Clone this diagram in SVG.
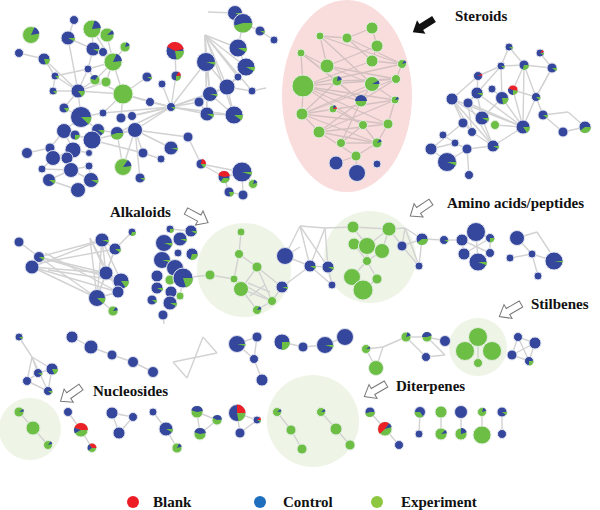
<svg xmlns="http://www.w3.org/2000/svg" width="600" height="510" viewBox="0 0 600 510">
<style>
.e line{stroke:#d2d2d2;stroke-width:1.4}
.se line{stroke:#d4c0c0;stroke-width:1.3}
circle.b{fill:#34479c;stroke:#e2e4ee;stroke-width:1}
circle.g{fill:#6cbe45;stroke:#e4eee2;stroke-width:1}
circle.r{fill:#ec2027;stroke:#eee2e2;stroke-width:1}
.wg{fill:none;stroke:#6cbe45}
.wb{fill:none;stroke:#34479c}
.wr{fill:none;stroke:#ec2027}
.lbl{font-family:"Liberation Serif","Times New Roman",serif;font-weight:bold;font-size:15px;fill:#111}
.hl{fill:#eef4e6}
</style>
<defs>
<polygon id="arr" points="0,-3.5 15,-3.5 15,-8 25,0 15,8 15,3.5 0,3.5"/>
</defs>
<rect width="600" height="510" fill="#fff"/>
<g id="regions">
<ellipse cx="347" cy="96" rx="65" ry="96" fill="#f9dddd"/>
<circle class="hl" cx="244" cy="270" r="47"/>
<circle class="hl" cx="370" cy="257" r="46"/>
<circle class="hl" cx="478" cy="347" r="29"/>
<circle class="hl" cx="30" cy="429" r="31"/>
<circle class="hl" cx="313" cy="421" r="46"/>
</g>
<g id="connectors">
<g class="e">
<line x1="19" y1="53" x2="44" y2="59"/><line x1="44" y1="59" x2="78" y2="91"/><line x1="44" y1="59" x2="55" y2="76"/><line x1="74" y1="20" x2="68" y2="38"/><line x1="68" y1="38" x2="93" y2="49"/><line x1="68" y1="38" x2="78" y2="91"/><line x1="92" y1="29" x2="93" y2="49"/><line x1="92" y1="29" x2="113" y2="62"/><line x1="93" y1="49" x2="113" y2="62"/><line x1="93" y1="49" x2="88" y2="69"/><line x1="103" y1="52" x2="113" y2="62"/><line x1="107" y1="35" x2="113" y2="62"/><line x1="125" y1="47" x2="113" y2="62"/><line x1="113" y1="62" x2="88" y2="69"/><line x1="113" y1="62" x2="95" y2="80"/><line x1="113" y1="62" x2="106" y2="82"/><line x1="88" y1="69" x2="55" y2="76"/><line x1="88" y1="69" x2="78" y2="91"/><line x1="88" y1="69" x2="95" y2="80"/><line x1="55" y1="76" x2="78" y2="91"/><line x1="55" y1="76" x2="53" y2="91"/><line x1="95" y1="80" x2="78" y2="91"/><line x1="106" y1="82" x2="78" y2="91"/><line x1="53" y1="91" x2="78" y2="91"/><line x1="78" y1="91" x2="123" y2="94"/><line x1="95" y1="80" x2="123" y2="94"/><line x1="113" y1="62" x2="123" y2="94"/><line x1="78" y1="91" x2="64" y2="108"/><line x1="78" y1="91" x2="81" y2="117"/><line x1="64" y1="108" x2="81" y2="117"/><line x1="81" y1="117" x2="103" y2="113"/><line x1="81" y1="117" x2="98" y2="130"/><line x1="81" y1="117" x2="64" y2="131"/><line x1="103" y1="113" x2="123" y2="94"/><line x1="121" y1="118" x2="123" y2="94"/><line x1="123" y1="94" x2="147" y2="77"/><line x1="123" y1="94" x2="150" y2="102"/><line x1="123" y1="94" x2="171" y2="107"/><line x1="150" y1="102" x2="171" y2="107"/><line x1="162" y1="84" x2="171" y2="107"/><line x1="176" y1="76" x2="171" y2="107"/><line x1="175" y1="51" x2="176" y2="76"/><line x1="103" y1="113" x2="171" y2="107"/><line x1="121" y1="118" x2="171" y2="107"/><line x1="132" y1="116" x2="171" y2="107"/><line x1="135" y1="130" x2="171" y2="107"/><line x1="117" y1="133" x2="171" y2="107"/><line x1="98" y1="130" x2="92" y2="140"/><line x1="92" y1="140" x2="64" y2="131"/><line x1="64" y1="131" x2="75" y2="135"/><line x1="75" y1="135" x2="92" y2="140"/><line x1="64" y1="131" x2="50" y2="148"/><line x1="64" y1="131" x2="73" y2="150"/><line x1="50" y1="148" x2="27" y2="153"/><line x1="50" y1="148" x2="53" y2="158"/><line x1="73" y1="150" x2="53" y2="158"/><line x1="73" y1="150" x2="67" y2="158"/><line x1="73" y1="150" x2="89" y2="153"/><line x1="89" y1="153" x2="92" y2="140"/><line x1="53" y1="158" x2="67" y2="158"/><line x1="67" y1="158" x2="71" y2="170"/><line x1="53" y1="158" x2="42" y2="169"/><line x1="42" y1="169" x2="71" y2="170"/><line x1="71" y1="170" x2="89" y2="166"/><line x1="89" y1="166" x2="91" y2="180"/><line x1="71" y1="170" x2="91" y2="180"/><line x1="49" y1="180" x2="71" y2="170"/><line x1="49" y1="180" x2="78" y2="190"/><line x1="78" y1="190" x2="91" y2="180"/><line x1="92" y1="140" x2="135" y2="130"/><line x1="98" y1="130" x2="117" y2="133"/><line x1="117" y1="133" x2="135" y2="130"/><line x1="92" y1="140" x2="143" y2="153"/><line x1="135" y1="130" x2="143" y2="153"/><line x1="135" y1="130" x2="123" y2="167"/><line x1="117" y1="133" x2="123" y2="167"/><line x1="143" y1="153" x2="161" y2="159"/><line x1="135" y1="130" x2="171" y2="148"/><line x1="135" y1="130" x2="140" y2="178"/><line x1="188" y1="137" x2="201" y2="164"/><line x1="135" y1="130" x2="188" y2="137"/><line x1="201" y1="164" x2="224" y2="177"/><line x1="201" y1="164" x2="242" y2="172"/><line x1="224" y1="177" x2="242" y2="172"/><line x1="224" y1="177" x2="229" y2="192"/><line x1="242" y1="172" x2="253" y2="184"/><line x1="242" y1="172" x2="243" y2="195"/><line x1="229" y1="192" x2="243" y2="195"/>
<line x1="171" y1="107" x2="206" y2="62"/><line x1="171" y1="107" x2="227" y2="87"/><line x1="171" y1="107" x2="210" y2="94"/><line x1="171" y1="107" x2="199" y2="102"/><line x1="171" y1="107" x2="207" y2="114"/><line x1="171" y1="107" x2="234" y2="115"/>
<line x1="208" y1="12" x2="235" y2="13"/><line x1="235" y1="13" x2="243" y2="23"/><line x1="243" y1="23" x2="260" y2="31"/><line x1="260" y1="31" x2="274" y2="40"/><line x1="243" y1="23" x2="238" y2="48"/><line x1="205" y1="35" x2="238" y2="48"/><line x1="205" y1="35" x2="206" y2="62"/><line x1="205" y1="35" x2="246" y2="67"/><line x1="205" y1="35" x2="227" y2="87"/><line x1="205" y1="35" x2="210" y2="94"/><line x1="205" y1="35" x2="234" y2="115"/><line x1="205" y1="35" x2="252" y2="91"/><line x1="205" y1="35" x2="207" y2="114"/><line x1="205" y1="35" x2="238" y2="77"/><line x1="238" y1="48" x2="246" y2="67"/><line x1="206" y1="62" x2="227" y2="87"/><line x1="246" y1="67" x2="238" y2="77"/><line x1="238" y1="77" x2="227" y2="87"/><line x1="227" y1="87" x2="252" y2="91"/><line x1="252" y1="91" x2="266" y2="88"/><line x1="227" y1="87" x2="210" y2="94"/><line x1="210" y1="94" x2="199" y2="102"/><line x1="199" y1="102" x2="207" y2="114"/><line x1="207" y1="114" x2="234" y2="115"/><line x1="227" y1="87" x2="234" y2="115"/><line x1="210" y1="94" x2="234" y2="115"/><line x1="206" y1="62" x2="210" y2="94"/><line x1="246" y1="67" x2="227" y2="87"/><line x1="206" y1="62" x2="207" y2="114"/>
<line x1="509" y1="47" x2="501" y2="66"/><line x1="540" y1="53" x2="552" y2="68"/><line x1="501" y1="66" x2="524" y2="65"/><line x1="524" y1="65" x2="552" y2="68"/><line x1="501" y1="66" x2="478" y2="76"/><line x1="524" y1="65" x2="513" y2="90"/><line x1="524" y1="65" x2="536" y2="97"/><line x1="524" y1="65" x2="523" y2="127"/><line x1="552" y1="68" x2="536" y2="97"/><line x1="478" y1="76" x2="477" y2="93"/><line x1="501" y1="66" x2="502" y2="98"/><line x1="501" y1="66" x2="477" y2="93"/><line x1="452" y1="99" x2="482" y2="118"/><line x1="452" y1="99" x2="523" y2="127"/><line x1="452" y1="99" x2="463" y2="123"/><line x1="452" y1="99" x2="493" y2="146"/><line x1="477" y1="93" x2="482" y2="118"/><line x1="477" y1="93" x2="523" y2="127"/><line x1="502" y1="98" x2="523" y2="127"/><line x1="502" y1="98" x2="482" y2="118"/><line x1="513" y1="90" x2="523" y2="127"/><line x1="536" y1="97" x2="523" y2="127"/><line x1="536" y1="97" x2="543" y2="115"/><line x1="536" y1="97" x2="513" y2="90"/><line x1="468" y1="103" x2="523" y2="127"/><line x1="468" y1="103" x2="493" y2="146"/><line x1="482" y1="118" x2="493" y2="146"/><line x1="495" y1="125" x2="523" y2="127"/><line x1="523" y1="127" x2="493" y2="146"/><line x1="543" y1="115" x2="563" y2="132"/><line x1="563" y1="132" x2="585" y2="127"/><line x1="543" y1="115" x2="568" y2="112"/><line x1="568" y1="112" x2="585" y2="127"/><line x1="463" y1="123" x2="472" y2="132"/><line x1="472" y1="132" x2="493" y2="146"/><line x1="443" y1="135" x2="455" y2="143"/><line x1="455" y1="143" x2="431" y2="149"/><line x1="431" y1="149" x2="447" y2="162"/><line x1="447" y1="162" x2="467" y2="149"/><line x1="467" y1="149" x2="493" y2="146"/><line x1="467" y1="149" x2="469" y2="175"/><line x1="455" y1="143" x2="467" y2="149"/><line x1="463" y1="123" x2="431" y2="149"/><line x1="477" y1="93" x2="468" y2="103"/><line x1="478" y1="76" x2="452" y2="99"/><line x1="452" y1="99" x2="472" y2="132"/><line x1="468" y1="103" x2="472" y2="132"/><line x1="492" y1="89" x2="502" y2="98"/><line x1="509" y1="47" x2="524" y2="65"/><line x1="536" y1="97" x2="552" y2="68"/>
<line x1="19" y1="242" x2="39" y2="257"/><line x1="39" y1="257" x2="32" y2="267"/><line x1="39" y1="257" x2="102" y2="240"/><line x1="39" y1="257" x2="106" y2="273"/><line x1="39" y1="257" x2="121" y2="281"/><line x1="39" y1="257" x2="97" y2="298"/><line x1="32" y1="267" x2="102" y2="240"/><line x1="32" y1="267" x2="106" y2="273"/><line x1="32" y1="267" x2="118" y2="292"/><line x1="32" y1="267" x2="97" y2="298"/><line x1="45" y1="262" x2="115" y2="249"/><line x1="48" y1="270" x2="121" y2="281"/><line x1="45" y1="253" x2="118" y2="292"/><line x1="102" y1="240" x2="115" y2="249"/><line x1="115" y1="249" x2="132" y2="232"/><line x1="102" y1="240" x2="106" y2="273"/><line x1="102" y1="240" x2="97" y2="298"/><line x1="102" y1="240" x2="121" y2="281"/><line x1="115" y1="249" x2="106" y2="273"/><line x1="106" y1="273" x2="121" y2="281"/><line x1="121" y1="281" x2="118" y2="292"/><line x1="118" y1="292" x2="97" y2="298"/><line x1="97" y1="298" x2="113" y2="311"/><line x1="106" y1="273" x2="97" y2="298"/><line x1="115" y1="249" x2="97" y2="298"/><line x1="90" y1="238" x2="97" y2="298"/><line x1="90" y1="238" x2="106" y2="273"/><line x1="90" y1="238" x2="118" y2="292"/>
<line x1="170" y1="229" x2="191" y2="231"/><line x1="183" y1="278" x2="210" y2="275"/><line x1="163" y1="315" x2="164" y2="324"/><line x1="180" y1="296" x2="183" y2="278"/>
<line x1="241" y1="232" x2="239" y2="254"/><line x1="239" y1="254" x2="257" y2="267"/><line x1="239" y1="254" x2="234" y2="279"/><line x1="210" y1="275" x2="234" y2="279"/><line x1="234" y1="279" x2="241" y2="289"/><line x1="257" y1="267" x2="241" y2="289"/><line x1="257" y1="267" x2="272" y2="301"/><line x1="241" y1="289" x2="272" y2="301"/><line x1="241" y1="289" x2="257" y2="310"/><line x1="234" y1="279" x2="272" y2="301"/><line x1="257" y1="267" x2="282" y2="287"/><line x1="272" y1="301" x2="282" y2="287"/><line x1="257" y1="310" x2="272" y2="301"/><line x1="248" y1="283" x2="270" y2="292"/><line x1="250" y1="296" x2="265" y2="285"/><line x1="285" y1="256" x2="300" y2="247"/>
<line x1="285" y1="256" x2="300" y2="226"/><line x1="300" y1="226" x2="325" y2="228"/><line x1="300" y1="226" x2="310" y2="266"/><line x1="325" y1="228" x2="310" y2="266"/><line x1="325" y1="228" x2="328" y2="267"/><line x1="300" y1="226" x2="328" y2="267"/><line x1="285" y1="256" x2="310" y2="266"/><line x1="310" y1="266" x2="328" y2="267"/><line x1="328" y1="267" x2="332" y2="285"/><line x1="310" y1="266" x2="332" y2="285"/><line x1="282" y1="287" x2="310" y2="266"/><line x1="325" y1="228" x2="353" y2="227"/>
<line x1="353" y1="227" x2="389" y2="229"/><line x1="353" y1="227" x2="367" y2="246"/><line x1="389" y1="229" x2="367" y2="246"/><line x1="389" y1="229" x2="382" y2="251"/><line x1="354" y1="244" x2="367" y2="246"/><line x1="367" y1="246" x2="382" y2="251"/><line x1="367" y1="246" x2="367" y2="261"/><line x1="382" y1="251" x2="367" y2="261"/><line x1="367" y1="261" x2="352" y2="277"/><line x1="367" y1="261" x2="377" y2="279"/><line x1="352" y1="277" x2="363" y2="290"/><line x1="377" y1="279" x2="363" y2="290"/><line x1="354" y1="244" x2="367" y2="261"/>
<line x1="389" y1="229" x2="405" y2="228"/><line x1="389" y1="229" x2="402" y2="246"/><line x1="405" y1="228" x2="422" y2="239"/><line x1="405" y1="228" x2="402" y2="246"/><line x1="405" y1="228" x2="419" y2="266"/><line x1="402" y1="246" x2="419" y2="266"/><line x1="422" y1="239" x2="419" y2="266"/><line x1="402" y1="246" x2="422" y2="239"/><line x1="422" y1="239" x2="444" y2="240"/><line x1="444" y1="240" x2="462" y2="240"/><line x1="462" y1="240" x2="476" y2="232"/><line x1="476" y1="232" x2="490" y2="238"/><line x1="462" y1="240" x2="464" y2="254"/><line x1="464" y1="254" x2="478" y2="262"/><line x1="478" y1="262" x2="490" y2="253"/><line x1="490" y1="238" x2="490" y2="253"/><line x1="462" y1="240" x2="490" y2="253"/><line x1="490" y1="238" x2="464" y2="254"/><line x1="476" y1="232" x2="478" y2="262"/>
<line x1="517" y1="238" x2="532" y2="254"/><line x1="510" y1="258" x2="532" y2="254"/><line x1="532" y1="254" x2="554" y2="261"/><line x1="517" y1="238" x2="537" y2="232"/><line x1="537" y1="232" x2="550" y2="252"/><line x1="538" y1="276" x2="532" y2="254"/>
<line x1="19" y1="337" x2="32" y2="357"/><line x1="32" y1="357" x2="52" y2="369"/><line x1="32" y1="357" x2="27" y2="381"/><line x1="32" y1="357" x2="38" y2="373"/><line x1="32" y1="357" x2="48" y2="391"/><line x1="27" y1="381" x2="48" y2="391"/><line x1="38" y1="373" x2="52" y2="369"/><line x1="52" y1="369" x2="48" y2="391"/><line x1="27" y1="381" x2="38" y2="373"/>
<line x1="72" y1="337" x2="91" y2="347"/><line x1="91" y1="347" x2="112" y2="355"/><line x1="112" y1="355" x2="133" y2="362"/><line x1="133" y1="362" x2="153" y2="372"/>
<line x1="173" y1="362" x2="217" y2="353"/><line x1="203" y1="337" x2="187" y2="378"/><line x1="203" y1="337" x2="217" y2="353"/><line x1="173" y1="362" x2="187" y2="378"/>
<line x1="237" y1="344" x2="257" y2="337"/><line x1="257" y1="337" x2="254" y2="359"/><line x1="254" y1="359" x2="262" y2="380"/><line x1="237" y1="344" x2="254" y2="359"/>
<line x1="282" y1="342" x2="303" y2="347"/><line x1="303" y1="347" x2="325" y2="345"/><line x1="325" y1="345" x2="345" y2="337"/>
<line x1="366" y1="349" x2="383" y2="347"/><line x1="383" y1="347" x2="376" y2="368"/><line x1="366" y1="349" x2="376" y2="368"/><line x1="383" y1="347" x2="406" y2="337"/>
<line x1="406" y1="337" x2="427" y2="337"/><line x1="427" y1="337" x2="445" y2="341"/><line x1="406" y1="337" x2="426" y2="357"/><line x1="427" y1="337" x2="445" y2="355"/><line x1="426" y1="357" x2="445" y2="355"/>
<line x1="478" y1="337" x2="478" y2="363"/>
<line x1="518" y1="337" x2="535" y2="343"/><line x1="518" y1="337" x2="512" y2="355"/><line x1="512" y1="355" x2="529" y2="361"/><line x1="535" y1="343" x2="529" y2="361"/><line x1="518" y1="337" x2="529" y2="361"/><line x1="512" y1="355" x2="535" y2="343"/>
<line x1="19" y1="412" x2="33" y2="428"/><line x1="33" y1="428" x2="48" y2="445"/><line x1="68" y1="412" x2="81" y2="430"/><line x1="81" y1="430" x2="92" y2="448"/><line x1="112" y1="413" x2="133" y2="417"/><line x1="112" y1="413" x2="119" y2="433"/><line x1="133" y1="417" x2="119" y2="433"/><line x1="153" y1="412" x2="166" y2="429"/><line x1="166" y1="429" x2="177" y2="448"/><line x1="197" y1="412" x2="217" y2="420"/><line x1="197" y1="412" x2="200" y2="434"/><line x1="217" y1="420" x2="200" y2="434"/><line x1="237" y1="413" x2="257" y2="420"/><line x1="237" y1="413" x2="240" y2="433"/><line x1="257" y1="420" x2="240" y2="433"/><line x1="277" y1="412" x2="291" y2="430"/><line x1="291" y1="430" x2="302" y2="449"/><line x1="321" y1="412" x2="336" y2="429"/><line x1="336" y1="429" x2="350" y2="445"/><line x1="370" y1="412" x2="385" y2="429"/><line x1="385" y1="429" x2="399" y2="445"/><line x1="420" y1="412" x2="419" y2="434"/><line x1="441" y1="412" x2="441" y2="434"/><line x1="461" y1="412" x2="461" y2="434"/><line x1="482" y1="412" x2="482" y2="435"/><line x1="502" y1="412" x2="502" y2="434"/>
</g>
<g class="se">
<line x1="372" y1="28" x2="347" y2="38"/><line x1="347" y1="38" x2="320" y2="36"/><line x1="320" y1="36" x2="327" y2="66"/><line x1="301" y1="53" x2="327" y2="66"/><line x1="301" y1="53" x2="303" y2="86"/><line x1="372" y1="28" x2="377" y2="46"/><line x1="377" y1="46" x2="372" y2="61"/><line x1="372" y1="61" x2="402" y2="64"/><line x1="320" y1="36" x2="372" y2="84"/><line x1="327" y1="66" x2="372" y2="84"/><line x1="327" y1="66" x2="396" y2="79"/><line x1="301" y1="53" x2="361" y2="101"/><line x1="303" y1="86" x2="361" y2="101"/><line x1="303" y1="86" x2="395" y2="100"/><line x1="303" y1="86" x2="363" y2="125"/><line x1="303" y1="86" x2="388" y2="124"/><line x1="303" y1="86" x2="396" y2="79"/><line x1="337" y1="81" x2="361" y2="101"/><line x1="337" y1="81" x2="302" y2="114"/><line x1="372" y1="84" x2="395" y2="100"/><line x1="396" y1="79" x2="361" y2="101"/><line x1="396" y1="79" x2="302" y2="114"/><line x1="361" y1="101" x2="319" y2="132"/><line x1="395" y1="100" x2="302" y2="114"/><line x1="395" y1="100" x2="319" y2="132"/><line x1="333" y1="109" x2="363" y2="125"/><line x1="302" y1="114" x2="388" y2="124"/><line x1="302" y1="114" x2="377" y2="143"/><line x1="363" y1="125" x2="341" y2="143"/><line x1="388" y1="124" x2="319" y2="132"/><line x1="319" y1="132" x2="377" y2="143"/><line x1="319" y1="132" x2="356" y2="156"/><line x1="341" y1="143" x2="377" y2="143"/><line x1="377" y1="143" x2="356" y2="156"/><line x1="356" y1="156" x2="336" y2="163"/><line x1="356" y1="156" x2="357" y2="173"/><line x1="402" y1="64" x2="396" y2="79"/><line x1="402" y1="64" x2="303" y2="86"/><line x1="347" y1="38" x2="402" y2="64"/><line x1="320" y1="36" x2="402" y2="64"/><line x1="301" y1="53" x2="337" y2="81"/><line x1="337" y1="81" x2="396" y2="79"/><line x1="372" y1="84" x2="302" y2="114"/><line x1="361" y1="101" x2="341" y2="143"/><line x1="363" y1="125" x2="377" y2="143"/><line x1="395" y1="100" x2="388" y2="124"/><line x1="377" y1="46" x2="327" y2="66"/><line x1="372" y1="61" x2="303" y2="86"/><line x1="347" y1="38" x2="372" y2="61"/><line x1="303" y1="86" x2="302" y2="114"/><line x1="302" y1="114" x2="319" y2="132"/><line x1="388" y1="124" x2="377" y2="143"/><line x1="372" y1="84" x2="361" y2="101"/>
</g>
</g>
<g id="nodes">
<g id="n1"><circle class="g" cx="31" cy="35" r="8.5"/><circle class="wb" cx="31" cy="35" r="4.25" stroke-width="8.5" pathLength="100" stroke-dasharray="0 82 15 100"/></g>
<g id="n2"><circle class="b" cx="74" cy="20" r="4.5"/></g>
<g id="n3"><circle class="g" cx="92" cy="29" r="9"/><circle class="wb" cx="92" cy="29" r="4.5" stroke-width="9" pathLength="100" stroke-dasharray="0 80 18 100"/></g>
<g id="n4"><circle class="b" cx="68" cy="38" r="7"/><circle class="wg" cx="68" cy="38" r="3.5" stroke-width="7" pathLength="100" stroke-dasharray="8 100"/></g>
<g id="n5"><circle class="g" cx="107" cy="35" r="7"/><circle class="wb" cx="107" cy="35" r="3.5" stroke-width="7" pathLength="100" stroke-dasharray="0 88 10 100"/></g>
<g id="n6"><circle class="g" cx="125" cy="47" r="5"/><circle class="wb" cx="125" cy="47" r="2.5" stroke-width="5" pathLength="100" stroke-dasharray="0 80 15 100"/></g>
<g id="n7"><circle class="b" cx="19" cy="53" r="4.5"/></g>
<g id="n8"><circle class="b" cx="44" cy="59" r="6"/><circle class="wg" cx="44" cy="59" r="3" stroke-width="6" pathLength="100" stroke-dasharray="20 100"/></g>
<g id="n9"><circle class="b" cx="93" cy="49" r="7"/><circle class="wg" cx="93" cy="49" r="3.5" stroke-width="7" pathLength="100" stroke-dasharray="8 100"/></g>
<g id="n10"><circle class="b" cx="103" cy="52" r="4.5"/></g>
<g id="n11"><circle class="g" cx="113" cy="62" r="9"/><circle class="wb" cx="113" cy="62" r="4.5" stroke-width="9" pathLength="100" stroke-dasharray="0 82 16 100"/></g>
<g id="n12"><circle class="b" cx="88" cy="69" r="4"/></g>
<g id="n13"><circle class="b" cx="55" cy="76" r="4"/><circle class="wg" cx="55" cy="76" r="2" stroke-width="4" pathLength="100" stroke-dasharray="12 100"/></g>
<g id="n14"><circle class="g" cx="95" cy="80" r="5"/><circle class="wb" cx="95" cy="80" r="2.5" stroke-width="5" pathLength="100" stroke-dasharray="0 55 30 100"/></g>
<g id="n15"><circle class="g" cx="106" cy="82" r="5"/></g>
<g id="n16"><circle class="b" cx="53" cy="91" r="4"/><circle class="wg" cx="53" cy="91" r="2" stroke-width="4" pathLength="100" stroke-dasharray="12 100"/></g>
<g id="n17"><circle class="b" cx="78" cy="91" r="7"/><circle class="wg" cx="78" cy="91" r="3.5" stroke-width="7" pathLength="100" stroke-dasharray="15 100"/></g>
<g id="n18"><circle class="g" cx="123" cy="94" r="10"/></g>
<g id="n19"><circle class="b" cx="64" cy="108" r="5"/><circle class="wg" cx="64" cy="108" r="2.5" stroke-width="5" pathLength="100" stroke-dasharray="15 100"/></g>
<g id="n20"><circle class="b" cx="81" cy="117" r="10.5"/><circle class="wg" cx="81" cy="117" r="5.25" stroke-width="10.5" pathLength="100" stroke-dasharray="12 100"/></g>
<g id="n21"><circle class="b" cx="103" cy="113" r="4"/></g>
<g id="n22"><circle class="b" cx="121" cy="118" r="5"/></g>
<g id="n23"><circle class="b" cx="132" cy="116" r="4.5"/></g>
<g id="n24"><circle class="b" cx="98" cy="130" r="6.5"/><circle class="wg" cx="98" cy="130" r="3.25" stroke-width="6.5" pathLength="100" stroke-dasharray="10 100"/></g>
<g id="n25"><circle class="b" cx="117" cy="133" r="6.5"/><circle class="wg" cx="117" cy="133" r="3.25" stroke-width="6.5" pathLength="100" stroke-dasharray="45 100"/></g>
<g id="n26"><circle class="b" cx="135" cy="130" r="7.5"/></g>
<g id="n27"><circle class="b" cx="64" cy="131" r="7.5"/></g>
<g id="n28"><circle class="b" cx="75" cy="135" r="5"/><circle class="wg" cx="75" cy="135" r="2.5" stroke-width="5" pathLength="100" stroke-dasharray="25 100"/></g>
<g id="n29"><circle class="b" cx="92" cy="140" r="9"/></g>
<g id="n30"><circle class="b" cx="27" cy="153" r="5.5"/></g>
<g id="n31"><circle class="b" cx="50" cy="148" r="5"/></g>
<g id="n32"><circle class="b" cx="73" cy="150" r="8"/></g>
<g id="n33"><circle class="b" cx="53" cy="158" r="7.5"/></g>
<g id="n34"><circle class="b" cx="67" cy="158" r="6"/></g>
<g id="n35"><circle class="b" cx="89" cy="153" r="3.5"/></g>
<g id="n36"><circle class="b" cx="143" cy="153" r="5"/></g>
<g id="n37"><circle class="g" cx="123" cy="167" r="8.5"/><circle class="wb" cx="123" cy="167" r="4.25" stroke-width="8.5" pathLength="100" stroke-dasharray="0 85 13 100"/></g>
<g id="n38"><circle class="b" cx="42" cy="169" r="4"/></g>
<g id="n39"><circle class="b" cx="71" cy="170" r="7.5"/></g>
<g id="n40"><circle class="b" cx="89" cy="166" r="4"/></g>
<g id="n41"><circle class="b" cx="49" cy="180" r="6.5"/><circle class="wg" cx="49" cy="180" r="3.25" stroke-width="6.5" pathLength="100" stroke-dasharray="10 100"/></g>
<g id="n42"><circle class="b" cx="91" cy="180" r="7.5"/><circle class="wg" cx="91" cy="180" r="3.75" stroke-width="7.5" pathLength="100" stroke-dasharray="8 100"/></g>
<g id="n43"><circle class="b" cx="78" cy="190" r="7.5"/></g>
<g id="n44"><circle class="b" cx="140" cy="178" r="5"/><circle class="wg" cx="140" cy="178" r="2.5" stroke-width="5" pathLength="100" stroke-dasharray="8 100"/></g>
<g id="n45"><circle class="b" cx="161" cy="159" r="4"/></g>
<g id="n46"><circle class="b" cx="171" cy="148" r="7"/><circle class="wg" cx="171" cy="148" r="3.5" stroke-width="7" pathLength="100" stroke-dasharray="5 100"/></g>
<g id="n47"><circle class="b" cx="188" cy="137" r="5"/></g>
<g id="n48"><circle class="b" cx="147" cy="77" r="5"/><circle class="wg" cx="147" cy="77" r="2.5" stroke-width="5" pathLength="100" stroke-dasharray="8 100"/></g>
<g id="n49"><circle class="b" cx="162" cy="84" r="4"/></g>
<g id="n50"><circle class="b" cx="150" cy="102" r="4.5"/></g>
<g id="n51"><circle class="b" cx="171" cy="107" r="4.5"/><circle class="wg" cx="171" cy="107" r="2.25" stroke-width="4.5" pathLength="100" stroke-dasharray="10 100"/></g>
<g id="n52"><circle class="b" cx="175" cy="51" r="9"/><circle class="wg" cx="175" cy="51" r="4.5" stroke-width="9" pathLength="100" stroke-dasharray="22 100"/><circle class="wr" cx="175" cy="51" r="4.5" stroke-width="9" pathLength="100" stroke-dasharray="0 58 38 100"/></g>
<g id="n53"><circle class="b" cx="176" cy="76" r="5"/><circle class="wg" cx="176" cy="76" r="2.5" stroke-width="5" pathLength="100" stroke-dasharray="25 100"/><circle class="wr" cx="176" cy="76" r="2.5" stroke-width="5" pathLength="100" stroke-dasharray="0 84 14 100"/></g>
<g id="n54"><circle class="b" cx="201" cy="164" r="5"/><circle class="wg" cx="201" cy="164" r="2.5" stroke-width="5" pathLength="100" stroke-dasharray="15 100"/><circle class="wr" cx="201" cy="164" r="2.5" stroke-width="5" pathLength="100" stroke-dasharray="0 78 22 100"/></g>
<g id="n55"><circle class="b" cx="224" cy="177" r="6"/><circle class="wg" cx="224" cy="177" r="3" stroke-width="6" pathLength="100" stroke-dasharray="0 5 30 100"/><circle class="wr" cx="224" cy="177" r="3" stroke-width="6" pathLength="100" stroke-dasharray="0 55 42 100"/></g>
<g id="n56"><circle class="b" cx="242" cy="172" r="10"/><circle class="wg" cx="242" cy="172" r="5" stroke-width="10" pathLength="100" stroke-dasharray="5 100"/></g>
<g id="n57"><circle class="g" cx="253" cy="184" r="4.5"/><circle class="wb" cx="253" cy="184" r="2.25" stroke-width="4.5" pathLength="100" stroke-dasharray="0 80 15 100"/></g>
<g id="n58"><circle class="b" cx="229" cy="192" r="5"/><circle class="wg" cx="229" cy="192" r="2.5" stroke-width="5" pathLength="100" stroke-dasharray="20 100"/></g>
<g id="n59"><circle class="b" cx="243" cy="195" r="5"/></g>
<g id="n60"><circle class="b" cx="235" cy="13" r="7.5"/><circle class="wg" cx="235" cy="13" r="3.75" stroke-width="7.5" pathLength="100" stroke-dasharray="8 100"/></g>
<g id="n61"><circle class="b" cx="243" cy="23" r="9.5"/><circle class="wg" cx="243" cy="23" r="4.75" stroke-width="9.5" pathLength="100" stroke-dasharray="45 100"/></g>
<g id="n62"><circle class="b" cx="260" cy="31" r="5"/><circle class="wg" cx="260" cy="31" r="2.5" stroke-width="5" pathLength="100" stroke-dasharray="8 100"/></g>
<g id="n63"><circle class="b" cx="274" cy="40" r="4"/></g>
<g id="n64"><circle class="b" cx="238" cy="48" r="9"/><circle class="wg" cx="238" cy="48" r="4.5" stroke-width="9" pathLength="100" stroke-dasharray="8 100"/></g>
<g id="n65"><circle class="b" cx="206" cy="62" r="9.5"/><circle class="wg" cx="206" cy="62" r="4.75" stroke-width="9.5" pathLength="100" stroke-dasharray="5 100"/></g>
<g id="n66"><circle class="b" cx="246" cy="67" r="9"/><circle class="wg" cx="246" cy="67" r="4.5" stroke-width="9" pathLength="100" stroke-dasharray="8 100"/></g>
<g id="n67"><circle class="b" cx="238" cy="77" r="4"/></g>
<g id="n68"><circle class="b" cx="227" cy="87" r="8"/></g>
<g id="n69"><circle class="b" cx="252" cy="91" r="4"/></g>
<g id="n70"><circle class="b" cx="210" cy="94" r="7.5"/><circle class="wg" cx="210" cy="94" r="3.75" stroke-width="7.5" pathLength="100" stroke-dasharray="5 100"/></g>
<g id="n71"><circle class="b" cx="199" cy="102" r="5"/></g>
<g id="n72"><circle class="b" cx="207" cy="114" r="7"/><circle class="wg" cx="207" cy="114" r="3.5" stroke-width="7" pathLength="100" stroke-dasharray="8 100"/></g>
<g id="n73"><circle class="b" cx="234" cy="115" r="9"/><circle class="wg" cx="234" cy="115" r="4.5" stroke-width="9" pathLength="100" stroke-dasharray="10 100"/></g>
<g id="s1"><circle class="g" cx="372" cy="28" r="6"/></g>
<g id="s2"><circle class="g" cx="347" cy="38" r="5"/></g>
<g id="s3"><circle class="g" cx="320" cy="36" r="4"/></g>
<g id="s4"><circle class="g" cx="377" cy="46" r="6"/></g>
<g id="s5"><circle class="g" cx="301" cy="53" r="4"/></g>
<g id="s6"><circle class="g" cx="372" cy="61" r="6"/></g>
<g id="s7"><circle class="g" cx="402" cy="64" r="4.5"/><circle class="wb" cx="402" cy="64" r="2.25" stroke-width="4.5" pathLength="100" stroke-dasharray="0 85 10 100"/></g>
<g id="s8"><circle class="g" cx="327" cy="66" r="7"/></g>
<g id="s9"><circle class="g" cx="303" cy="86" r="11"/></g>
<g id="s10"><circle class="g" cx="337" cy="81" r="5"/><circle class="wb" cx="337" cy="81" r="2.5" stroke-width="5" pathLength="100" stroke-dasharray="0 78 18 100"/></g>
<g id="s11"><circle class="g" cx="372" cy="84" r="7.5"/><circle class="wb" cx="372" cy="84" r="3.75" stroke-width="7.5" pathLength="100" stroke-dasharray="0 92 8 100"/></g>
<g id="s12"><circle class="g" cx="396" cy="79" r="4.5"/></g>
<g id="s13"><circle class="g" cx="361" cy="101" r="6"/><circle class="wb" cx="361" cy="101" r="3" stroke-width="6" pathLength="100" stroke-dasharray="0 50 50 100"/></g>
<g id="s14"><circle class="g" cx="395" cy="100" r="4"/><circle class="wb" cx="395" cy="100" r="2" stroke-width="4" pathLength="100" stroke-dasharray="0 85 12 100"/></g>
<g id="s15"><circle class="g" cx="333" cy="109" r="4"/><circle class="wb" cx="333" cy="109" r="2" stroke-width="4" pathLength="100" stroke-dasharray="0 78 12 100"/><circle class="wr" cx="333" cy="109" r="2" stroke-width="4" pathLength="100" stroke-dasharray="0 90 10 100"/></g>
<g id="s16"><circle class="g" cx="302" cy="114" r="6"/></g>
<g id="s17"><circle class="g" cx="363" cy="125" r="4.5"/></g>
<g id="s18"><circle class="g" cx="388" cy="124" r="5"/></g>
<g id="s19"><circle class="g" cx="319" cy="132" r="6"/></g>
<g id="s20"><circle class="g" cx="341" cy="143" r="4.5"/></g>
<g id="s21"><circle class="g" cx="377" cy="143" r="5"/><circle class="wb" cx="377" cy="143" r="2.5" stroke-width="5" pathLength="100" stroke-dasharray="0 85 10 100"/></g>
<g id="s22"><circle class="g" cx="356" cy="156" r="5"/></g>
<g id="s23"><circle class="b" cx="336" cy="163" r="7"/></g>
<g id="s24"><circle class="b" cx="377" cy="164" r="4"/></g>
<g id="s25"><circle class="b" cx="357" cy="173" r="8.5"/></g>
<g id="r1"><circle class="b" cx="509" cy="47" r="4"/><circle class="wg" cx="509" cy="47" r="2" stroke-width="4" pathLength="100" stroke-dasharray="10 100"/></g>
<g id="r2"><circle class="b" cx="540" cy="53" r="4"/><circle class="wr" cx="540" cy="53" r="2" stroke-width="4" pathLength="100" stroke-dasharray="0 86 10 100"/><circle class="wg" cx="540" cy="53" r="2" stroke-width="4" pathLength="100" stroke-dasharray="8 100"/></g>
<g id="r3"><circle class="b" cx="501" cy="66" r="4"/><circle class="wg" cx="501" cy="66" r="2" stroke-width="4" pathLength="100" stroke-dasharray="10 100"/></g>
<g id="r4"><circle class="b" cx="524" cy="65" r="5"/><circle class="wg" cx="524" cy="65" r="2.5" stroke-width="5" pathLength="100" stroke-dasharray="30 100"/></g>
<g id="r5"><circle class="b" cx="552" cy="68" r="5"/><circle class="wg" cx="552" cy="68" r="2.5" stroke-width="5" pathLength="100" stroke-dasharray="10 100"/></g>
<g id="r6"><circle class="b" cx="478" cy="76" r="4.5"/><circle class="wr" cx="478" cy="76" r="2.25" stroke-width="4.5" pathLength="100" stroke-dasharray="0 90 8 100"/></g>
<g id="r7"><circle class="b" cx="492" cy="89" r="4"/></g>
<g id="r8"><circle class="r" cx="513" cy="90" r="5"/><circle class="wb" cx="513" cy="90" r="2.5" stroke-width="5" pathLength="100" stroke-dasharray="0 25 30 100"/><circle class="wg" cx="513" cy="90" r="2.5" stroke-width="5" pathLength="100" stroke-dasharray="0 3 22 100"/></g>
<g id="r9"><circle class="b" cx="452" cy="99" r="6"/></g>
<g id="r10"><circle class="b" cx="477" cy="93" r="6"/><circle class="wg" cx="477" cy="93" r="3" stroke-width="6" pathLength="100" stroke-dasharray="8 100"/></g>
<g id="r11"><circle class="b" cx="502" cy="98" r="6.5"/><circle class="wg" cx="502" cy="98" r="3.25" stroke-width="6.5" pathLength="100" stroke-dasharray="22 100"/></g>
<g id="r12"><circle class="b" cx="536" cy="97" r="4.5"/><circle class="wg" cx="536" cy="97" r="2.25" stroke-width="4.5" pathLength="100" stroke-dasharray="12 100"/></g>
<g id="r13"><circle class="b" cx="468" cy="103" r="5"/></g>
<g id="r14"><circle class="b" cx="482" cy="118" r="7"/><circle class="wg" cx="482" cy="118" r="3.5" stroke-width="7" pathLength="100" stroke-dasharray="8 100"/></g>
<g id="r15"><circle class="g" cx="495" cy="125" r="4.5"/></g>
<g id="r16"><circle class="b" cx="523" cy="127" r="7"/><circle class="wg" cx="523" cy="127" r="3.5" stroke-width="7" pathLength="100" stroke-dasharray="15 100"/></g>
<g id="r17"><circle class="b" cx="543" cy="115" r="5"/><circle class="wg" cx="543" cy="115" r="2.5" stroke-width="5" pathLength="100" stroke-dasharray="10 100"/></g>
<g id="r18"><circle class="b" cx="463" cy="123" r="5"/></g>
<g id="r19"><circle class="b" cx="472" cy="132" r="4.5"/></g>
<g id="r20"><circle class="b" cx="443" cy="135" r="4"/></g>
<g id="r21"><circle class="b" cx="455" cy="143" r="4"/></g>
<g id="r22"><circle class="b" cx="493" cy="146" r="6"/><circle class="wg" cx="493" cy="146" r="3" stroke-width="6" pathLength="100" stroke-dasharray="8 100"/></g>
<g id="r23"><circle class="b" cx="467" cy="149" r="5"/></g>
<g id="r24"><circle class="b" cx="431" cy="149" r="6"/></g>
<g id="r25"><circle class="b" cx="447" cy="162" r="9.5"/><circle class="wg" cx="447" cy="162" r="4.75" stroke-width="9.5" pathLength="100" stroke-dasharray="6 100"/></g>
<g id="r26"><circle class="b" cx="469" cy="175" r="4.5"/></g>
<g id="r27"><circle class="b" cx="563" cy="132" r="5"/></g>
<g id="r28"><circle class="b" cx="585" cy="127" r="6"/><circle class="wg" cx="585" cy="127" r="3" stroke-width="6" pathLength="100" stroke-dasharray="0 0 40 100"/></g>
<g id="l1"><circle class="b" cx="19" cy="242" r="5"/></g>
<g id="l2"><circle class="b" cx="39" cy="257" r="5.5"/><circle class="wg" cx="39" cy="257" r="2.75" stroke-width="5.5" pathLength="100" stroke-dasharray="10 100"/></g>
<g id="l3"><circle class="b" cx="32" cy="267" r="7"/></g>
<g id="l4"><circle class="b" cx="102" cy="240" r="7"/><circle class="wg" cx="102" cy="240" r="3.5" stroke-width="7" pathLength="100" stroke-dasharray="6 100"/></g>
<g id="l5"><circle class="b" cx="115" cy="249" r="6"/><circle class="wg" cx="115" cy="249" r="3" stroke-width="6" pathLength="100" stroke-dasharray="10 100"/></g>
<g id="l6"><circle class="b" cx="132" cy="232" r="4"/><circle class="wg" cx="132" cy="232" r="2" stroke-width="4" pathLength="100" stroke-dasharray="30 100"/></g>
<g id="l7"><circle class="b" cx="106" cy="273" r="7"/></g>
<g id="l8"><circle class="b" cx="121" cy="281" r="8"/><circle class="wg" cx="121" cy="281" r="4" stroke-width="8" pathLength="100" stroke-dasharray="15 100"/></g>
<g id="l9"><circle class="b" cx="118" cy="292" r="6"/></g>
<g id="l10"><circle class="b" cx="97" cy="298" r="8.5"/><circle class="wg" cx="97" cy="298" r="4.25" stroke-width="8.5" pathLength="100" stroke-dasharray="12 100"/></g>
<g id="l11"><circle class="g" cx="113" cy="311" r="5"/><circle class="wb" cx="113" cy="311" r="2.5" stroke-width="5" pathLength="100" stroke-dasharray="0 85 12 100"/></g>
<g id="c1"><circle class="b" cx="170" cy="229" r="4"/><circle class="wg" cx="170" cy="229" r="2" stroke-width="4" pathLength="100" stroke-dasharray="25 100"/></g>
<g id="c2"><circle class="b" cx="191" cy="231" r="6"/><circle class="wg" cx="191" cy="231" r="3" stroke-width="6" pathLength="100" stroke-dasharray="8 100"/></g>
<g id="c3"><circle class="b" cx="180" cy="239" r="7"/><circle class="wg" cx="180" cy="239" r="3.5" stroke-width="7" pathLength="100" stroke-dasharray="6 100"/></g>
<g id="c4"><circle class="b" cx="164" cy="243" r="8.5"/><circle class="wg" cx="164" cy="243" r="4.25" stroke-width="8.5" pathLength="100" stroke-dasharray="6 100"/></g>
<g id="c5"><circle class="b" cx="178" cy="253" r="4"/></g>
<g id="c6"><circle class="b" cx="192" cy="254" r="6"/><circle class="wg" cx="192" cy="254" r="3" stroke-width="6" pathLength="100" stroke-dasharray="30 100"/></g>
<g id="c7"><circle class="b" cx="162" cy="260" r="8.5"/><circle class="wg" cx="162" cy="260" r="4.25" stroke-width="8.5" pathLength="100" stroke-dasharray="5 100"/></g>
<g id="c8"><circle class="b" cx="175" cy="268" r="8.5"/></g>
<g id="c9"><circle class="g" cx="170" cy="280" r="5"/></g>
<g id="c10"><circle class="b" cx="157" cy="276" r="6"/></g>
<g id="c11"><circle class="b" cx="183" cy="278" r="10"/><circle class="wg" cx="183" cy="278" r="5" stroke-width="10" pathLength="100" stroke-dasharray="20 100"/></g>
<g id="c12"><circle class="b" cx="157" cy="288" r="6"/><circle class="wg" cx="157" cy="288" r="3" stroke-width="6" pathLength="100" stroke-dasharray="8 100"/></g>
<g id="c13"><circle class="b" cx="171" cy="292" r="6"/></g>
<g id="c14"><circle class="g" cx="180" cy="296" r="4"/></g>
<g id="c15"><circle class="b" cx="152" cy="300" r="5"/><circle class="wg" cx="152" cy="300" r="2.5" stroke-width="5" pathLength="100" stroke-dasharray="10 100"/></g>
<g id="c16"><circle class="b" cx="170" cy="303" r="7"/><circle class="wg" cx="170" cy="303" r="3.5" stroke-width="7" pathLength="100" stroke-dasharray="8 100"/></g>
<g id="c17"><circle class="b" cx="163" cy="315" r="5"/></g>
<g id="k1"><circle class="g" cx="241" cy="232" r="4"/></g>
<g id="k2"><circle class="g" cx="239" cy="254" r="4.5"/></g>
<g id="k3"><circle class="g" cx="257" cy="267" r="5"/></g>
<g id="k4"><circle class="g" cx="210" cy="275" r="5"/></g>
<g id="k5"><circle class="g" cx="234" cy="279" r="4"/></g>
<g id="k6"><circle class="g" cx="241" cy="289" r="7.5"/></g>
<g id="k7"><circle class="g" cx="272" cy="301" r="4.5"/></g>
<g id="k8"><circle class="g" cx="257" cy="310" r="4.5"/><circle class="wb" cx="257" cy="310" r="2.25" stroke-width="4.5" pathLength="100" stroke-dasharray="0 85 12 100"/></g>
<g id="k9"><circle class="b" cx="285" cy="256" r="8.5"/></g>
<g id="k10"><circle class="b" cx="282" cy="287" r="6"/><circle class="wg" cx="282" cy="287" r="3" stroke-width="6" pathLength="100" stroke-dasharray="6 100"/></g>
<g id="p1"><circle class="b" cx="310" cy="266" r="6"/><circle class="wg" cx="310" cy="266" r="3" stroke-width="6" pathLength="100" stroke-dasharray="8 100"/></g>
<g id="p2"><circle class="b" cx="328" cy="267" r="6"/><circle class="wg" cx="328" cy="267" r="3" stroke-width="6" pathLength="100" stroke-dasharray="8 100"/></g>
<g id="p3"><circle class="b" cx="332" cy="285" r="4"/></g>
<g id="a1"><circle class="g" cx="353" cy="227" r="6"/></g>
<g id="a2"><circle class="g" cx="389" cy="229" r="7"/></g>
<g id="a3"><circle class="g" cx="354" cy="244" r="6"/></g>
<g id="a4"><circle class="g" cx="367" cy="246" r="8.5"/></g>
<g id="a5"><circle class="g" cx="382" cy="251" r="7.5"/></g>
<g id="a6"><circle class="g" cx="367" cy="261" r="4.5"/></g>
<g id="a7"><circle class="g" cx="352" cy="277" r="8.5"/></g>
<g id="a8"><circle class="g" cx="377" cy="279" r="5"/></g>
<g id="a9"><circle class="g" cx="363" cy="290" r="10"/></g>
<g id="q1"><circle class="b" cx="402" cy="246" r="5"/></g>
<g id="q2"><circle class="b" cx="422" cy="239" r="6"/><circle class="wg" cx="422" cy="239" r="3" stroke-width="6" pathLength="100" stroke-dasharray="40 100"/></g>
<g id="q3"><circle class="b" cx="419" cy="266" r="4"/></g>
<g id="q4"><circle class="b" cx="444" cy="240" r="4.5"/><circle class="wg" cx="444" cy="240" r="2.25" stroke-width="4.5" pathLength="100" stroke-dasharray="8 100"/></g>
<g id="q5"><circle class="b" cx="476" cy="232" r="9.5"/></g>
<g id="q6"><circle class="b" cx="462" cy="240" r="6"/></g>
<g id="q7"><circle class="b" cx="490" cy="238" r="4.5"/><circle class="wg" cx="490" cy="238" r="2.25" stroke-width="4.5" pathLength="100" stroke-dasharray="25 100"/></g>
<g id="q8"><circle class="b" cx="464" cy="254" r="6"/></g>
<g id="q9"><circle class="b" cx="490" cy="253" r="4.5"/></g>
<g id="q10"><circle class="b" cx="478" cy="262" r="9"/><circle class="wg" cx="478" cy="262" r="4.5" stroke-width="9" pathLength="100" stroke-dasharray="6 100"/></g>
<g id="q11"><circle class="b" cx="517" cy="238" r="7.5"/></g>
<g id="q12"><circle class="b" cx="532" cy="254" r="4"/></g>
<g id="q13"><circle class="b" cx="510" cy="258" r="4"/></g>
<g id="q14"><circle class="b" cx="554" cy="261" r="9"/><circle class="wg" cx="554" cy="261" r="4.5" stroke-width="9" pathLength="100" stroke-dasharray="3 100"/></g>
<g id="q15"><circle class="b" cx="538" cy="276" r="4"/></g>
<g id="m1"><circle class="b" cx="19" cy="337" r="4"/><circle class="wg" cx="19" cy="337" r="2" stroke-width="4" pathLength="100" stroke-dasharray="10 100"/></g>
<g id="m2"><circle class="b" cx="52" cy="369" r="6"/><circle class="wg" cx="52" cy="369" r="3" stroke-width="6" pathLength="100" stroke-dasharray="18 100"/></g>
<g id="m3"><circle class="b" cx="38" cy="373" r="4.5"/><circle class="wg" cx="38" cy="373" r="2.25" stroke-width="4.5" pathLength="100" stroke-dasharray="10 100"/></g>
<g id="m4"><circle class="b" cx="27" cy="381" r="4.5"/></g>
<g id="m5"><circle class="b" cx="48" cy="391" r="4.5"/><circle class="wg" cx="48" cy="391" r="2.25" stroke-width="4.5" pathLength="100" stroke-dasharray="10 100"/></g>
<g id="m6"><circle class="b" cx="72" cy="337" r="6"/></g>
<g id="m7"><circle class="b" cx="91" cy="347" r="7"/></g>
<g id="m8"><circle class="b" cx="112" cy="355" r="5"/></g>
<g id="m9"><circle class="b" cx="133" cy="362" r="5.5"/></g>
<g id="m10"><circle class="b" cx="153" cy="372" r="5.5"/></g>
<g id="m11"><circle class="b" cx="237" cy="344" r="8.5"/><circle class="wg" cx="237" cy="344" r="4.25" stroke-width="8.5" pathLength="100" stroke-dasharray="4 100"/></g>
<g id="m12"><circle class="b" cx="257" cy="337" r="5"/></g>
<g id="m13"><circle class="b" cx="254" cy="359" r="4.5"/></g>
<g id="m14"><circle class="b" cx="262" cy="380" r="6"/></g>
<g id="m15"><circle class="b" cx="282" cy="342" r="8"/><circle class="wg" cx="282" cy="342" r="4" stroke-width="8" pathLength="100" stroke-dasharray="25 100"/></g>
<g id="m16"><circle class="b" cx="303" cy="347" r="5"/></g>
<g id="m17"><circle class="b" cx="325" cy="345" r="8.5"/><circle class="wg" cx="325" cy="345" r="4.25" stroke-width="8.5" pathLength="100" stroke-dasharray="5 100"/></g>
<g id="m18"><circle class="b" cx="345" cy="337" r="8.5"/></g>
<g id="m19"><circle class="g" cx="366" cy="349" r="4.5"/><circle class="wb" cx="366" cy="349" r="2.25" stroke-width="4.5" pathLength="100" stroke-dasharray="0 90 8 100"/></g>
<g id="m20"><circle class="g" cx="376" cy="368" r="7.5"/></g>
<g id="m21"><circle class="g" cx="406" cy="337" r="5"/><circle class="wb" cx="406" cy="337" r="2.5" stroke-width="5" pathLength="100" stroke-dasharray="0 80 15 100"/></g>
<g id="m22"><circle class="g" cx="427" cy="337" r="5"/><circle class="wb" cx="427" cy="337" r="2.5" stroke-width="5" pathLength="100" stroke-dasharray="0 50 45 100"/></g>
<g id="m23"><circle class="b" cx="445" cy="341" r="5.5"/></g>
<g id="m24"><circle class="b" cx="426" cy="357" r="4.5"/></g>
<g id="t1"><circle class="g" cx="478" cy="337" r="9.5"/></g>
<g id="t2"><circle class="g" cx="465" cy="351" r="9.5"/></g>
<g id="t3"><circle class="g" cx="492" cy="351" r="9.5"/></g>
<g id="t4"><circle class="g" cx="478" cy="363" r="4.5"/></g>
<g id="m25"><circle class="b" cx="518" cy="337" r="4.5"/></g>
<g id="m26"><circle class="b" cx="535" cy="343" r="6"/></g>
<g id="m27"><circle class="b" cx="512" cy="355" r="5"/></g>
<g id="m28"><circle class="b" cx="529" cy="361" r="4.5"/><circle class="wg" cx="529" cy="361" r="2.25" stroke-width="4.5" pathLength="100" stroke-dasharray="25 100"/></g>
<g id="u1"><circle class="g" cx="19" cy="412" r="5"/><circle class="wb" cx="19" cy="412" r="2.5" stroke-width="5" pathLength="100" stroke-dasharray="0 90 8 100"/></g>
<g id="u2"><circle class="g" cx="33" cy="428" r="7"/></g>
<g id="u3"><circle class="g" cx="48" cy="445" r="4.5"/><circle class="wb" cx="48" cy="445" r="2.25" stroke-width="4.5" pathLength="100" stroke-dasharray="0 85 10 100"/></g>
<g id="u4"><circle class="b" cx="68" cy="412" r="4.5"/></g>
<g id="u5"><circle class="g" cx="81" cy="430" r="7"/><circle class="wb" cx="81" cy="430" r="3.5" stroke-width="7" pathLength="100" stroke-dasharray="0 42 14 100"/><circle class="wr" cx="81" cy="430" r="3.5" stroke-width="7" pathLength="100" stroke-dasharray="0 56 44 100"/></g>
<g id="u6"><circle class="g" cx="92" cy="448" r="4.5"/><circle class="wb" cx="92" cy="448" r="2.25" stroke-width="4.5" pathLength="100" stroke-dasharray="0 40 25 100"/><circle class="wr" cx="92" cy="448" r="2.25" stroke-width="4.5" pathLength="100" stroke-dasharray="0 65 35 100"/></g>
<g id="u7"><circle class="b" cx="112" cy="413" r="6"/></g>
<g id="u8"><circle class="b" cx="133" cy="417" r="4.5"/></g>
<g id="u9"><circle class="b" cx="119" cy="433" r="6"/></g>
<g id="u10"><circle class="b" cx="153" cy="412" r="4"/></g>
<g id="u11"><circle class="b" cx="166" cy="429" r="7"/><circle class="wg" cx="166" cy="429" r="3.5" stroke-width="7" pathLength="100" stroke-dasharray="8 100"/></g>
<g id="u12"><circle class="g" cx="177" cy="448" r="5"/><circle class="wb" cx="177" cy="448" r="2.5" stroke-width="5" pathLength="100" stroke-dasharray="0 82 13 100"/></g>
<g id="u13"><circle class="g" cx="197" cy="412" r="6"/><circle class="wb" cx="197" cy="412" r="3" stroke-width="6" pathLength="100" stroke-dasharray="0 55 42 100"/></g>
<g id="u14"><circle class="g" cx="217" cy="420" r="5"/><circle class="wb" cx="217" cy="420" r="2.5" stroke-width="5" pathLength="100" stroke-dasharray="0 58 40 100"/></g>
<g id="u15"><circle class="g" cx="200" cy="434" r="6"/><circle class="wb" cx="200" cy="434" r="3" stroke-width="6" pathLength="100" stroke-dasharray="0 55 42 100"/></g>
<g id="u16"><circle class="b" cx="237" cy="413" r="8.5"/><circle class="wg" cx="237" cy="413" r="4.25" stroke-width="8.5" pathLength="100" stroke-dasharray="22 100"/><circle class="wr" cx="237" cy="413" r="4.25" stroke-width="8.5" pathLength="100" stroke-dasharray="0 75 25 100"/></g>
<g id="u17"><circle class="b" cx="257" cy="420" r="4"/><circle class="wr" cx="257" cy="420" r="2" stroke-width="4" pathLength="100" stroke-dasharray="0 88 12 100"/><circle class="wg" cx="257" cy="420" r="2" stroke-width="4" pathLength="100" stroke-dasharray="8 100"/></g>
<g id="u18"><circle class="b" cx="240" cy="433" r="5"/></g>
<g id="d1"><circle class="g" cx="277" cy="412" r="4.5"/><circle class="wb" cx="277" cy="412" r="2.25" stroke-width="4.5" pathLength="100" stroke-dasharray="0 88 10 100"/></g>
<g id="d2"><circle class="g" cx="291" cy="430" r="5"/></g>
<g id="d3"><circle class="g" cx="302" cy="449" r="5"/></g>
<g id="d4"><circle class="g" cx="321" cy="412" r="4.5"/><circle class="wb" cx="321" cy="412" r="2.25" stroke-width="4.5" pathLength="100" stroke-dasharray="0 88 10 100"/></g>
<g id="d5"><circle class="g" cx="336" cy="429" r="6"/></g>
<g id="d6"><circle class="g" cx="350" cy="445" r="5"/></g>
<g id="u19"><circle class="b" cx="370" cy="412" r="5"/><circle class="wg" cx="370" cy="412" r="2.5" stroke-width="5" pathLength="100" stroke-dasharray="45 100"/></g>
<g id="u20"><circle class="g" cx="385" cy="429" r="7"/><circle class="wr" cx="385" cy="429" r="3.5" stroke-width="7" pathLength="100" stroke-dasharray="0 38 47 100"/><circle class="wb" cx="385" cy="429" r="3.5" stroke-width="7" pathLength="100" stroke-dasharray="0 85 10 100"/></g>
<g id="u21"><circle class="b" cx="399" cy="445" r="4.5"/></g>
<g id="v1"><circle class="b" cx="420" cy="412" r="5.5"/><circle class="wg" cx="420" cy="412" r="2.75" stroke-width="5.5" pathLength="100" stroke-dasharray="0 15 35 100"/></g>
<g id="v2"><circle class="b" cx="419" cy="434" r="4"/></g>
<g id="v3"><circle class="g" cx="441" cy="412" r="6"/></g>
<g id="v4"><circle class="g" cx="441" cy="434" r="6"/><circle class="wb" cx="441" cy="434" r="3" stroke-width="6" pathLength="100" stroke-dasharray="0 88 10 100"/></g>
<g id="v5"><circle class="b" cx="461" cy="412" r="6.5"/></g>
<g id="v6"><circle class="g" cx="461" cy="434" r="6"/><circle class="wb" cx="461" cy="434" r="3" stroke-width="6" pathLength="100" stroke-dasharray="0 75 20 100"/></g>
<g id="v7"><circle class="g" cx="482" cy="412" r="4.5"/><circle class="wb" cx="482" cy="412" r="2.25" stroke-width="4.5" pathLength="100" stroke-dasharray="0 80 15 100"/></g>
<g id="v8"><circle class="g" cx="482" cy="435" r="9"/></g>
<g id="v9"><circle class="b" cx="502" cy="412" r="5"/><circle class="wg" cx="502" cy="412" r="2.5" stroke-width="5" pathLength="100" stroke-dasharray="10 100"/></g>
<g id="v10"><circle class="b" cx="502" cy="434" r="4.5"/></g>
</g>
<g id="labels">
<use href="#arr" transform="translate(434,19) rotate(148)" fill="#111"/>
<text class="lbl" x="455" y="21">Steroids</text>
<use href="#arr" transform="translate(186,211) rotate(28)" fill="#fff" stroke="#777" stroke-width="1"/>
<text class="lbl" x="110" y="217">Alkaloids</text>
<use href="#arr" transform="translate(431,202) rotate(146)" fill="#fff" stroke="#777" stroke-width="1"/>
<text class="lbl" x="447" y="208">Amino acids/peptides</text>
<use href="#arr" transform="translate(521,304) rotate(150)" fill="#fff" stroke="#777" stroke-width="1"/>
<text class="lbl" x="531" y="309">Stilbenes</text>
<use href="#arr" transform="translate(81,387) rotate(145)" fill="#fff" stroke="#777" stroke-width="1"/>
<text class="lbl" x="93" y="396">Nucleosides</text>
<use href="#arr" transform="translate(386,384) rotate(150)" fill="#fff" stroke="#777" stroke-width="1"/>
<text class="lbl" x="396" y="391">Diterpenes</text>
</g>
<g id="legend">
<circle cx="133" cy="502" r="6" fill="#ed1c24"/>
<text class="lbl" x="153" y="507">Blank</text>
<circle cx="260" cy="502" r="6" fill="#1e70bf"/>
<text class="lbl" x="283" y="507">Control</text>
<circle cx="377" cy="502" r="6" fill="#8dc63f"/>
<text class="lbl" x="401" y="507">Experiment</text>
</g>
</svg>
